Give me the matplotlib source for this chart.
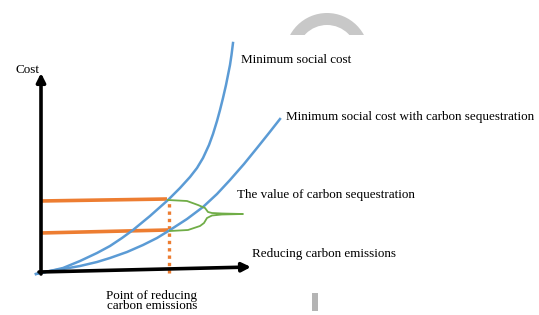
import matplotlib
matplotlib.use("Agg")
import matplotlib.pyplot as plt
from matplotlib.patches import Wedge, Rectangle

# Diagram data (x: reduction of carbon emissions, y: cost)
cost_x = [-4, 10, 23, 40, 57, 70, 82, 93, 110, 128, 140, 150, 157, 163, 169, 173, 177, 180, 183, 186, 188, 190, 191.5, 193]
cost_y = [-1, 2, 5, 12, 20, 27, 35, 43, 57, 73, 85, 96, 105, 115, 128, 139, 152, 163, 175, 188, 198, 208, 218, 230]

seq_x = [-4, 10, 23, 40, 57, 70, 87, 103, 117, 130, 147, 163, 177, 190, 204, 217, 229, 240]
seq_y = [-1, 2, 4, 7, 11, 15, 21, 28, 35, 43, 54, 66, 79, 93, 109, 125, 140, 154]

brace_x = [128, 147, 158, 165, 168, 172, 182, 203, 182, 172, 167, 164, 160, 148, 130]
brace_y = [73, 72, 68, 65, 61, 60, 59.5, 59, 58.5, 57.5, 55, 50, 47, 43, 42]

upper_level_x = [0, 127]
upper_level_y = [72, 74]
lower_level_x = [0, 128]
lower_level_y = [40, 43]
point_x = [129, 129]
point_y = [0, 73]

labels = {
    "cost": "Cost",
    "c1": "Minimum social cost",
    "c2": "Minimum social cost with carbon sequestration",
    "val": "The value of carbon sequestration",
    "xax": "Reducing carbon emissions",
    "pt": "Point of reducing\ncarbon emissions",
}

BLUE = "#5B9BD5"
ORANGE = "#ED7D31"
GREEN = "#70AD47"

fig = plt.figure(figsize=(5.39, 3.15), dpi=100)
ax = fig.add_axes([0, 0, 1, 1])
ax.set_xlim(-40, 499)
ax.set_ylim(-42, 273)
ax.axis("off")

serif = ["Liberation Serif", "DejaVu Serif"]
fs = 9.45

# watermark decorations
w = Wedge((287, 218), 42, 0, 180, width=12, facecolor="#c8c8c8", edgecolor="none")
ax.add_patch(w)
clip = Rectangle((200, 238), 200, 100, transform=ax.transData)
w.set_clip_path(clip)
ax.add_patch(Rectangle((272, -38), 6, 18, facecolor="#b4b4b4", edgecolor="none"))

# level lines
ax.plot(upper_level_x, upper_level_y, color=ORANGE, lw=2.6, solid_capstyle="butt", zorder=3)
ax.plot(lower_level_x, lower_level_y, color=ORANGE, lw=2.6, solid_capstyle="butt", zorder=3)
ax.plot(point_x, point_y, color=ORANGE, lw=2.4, ls=(0, (1, 1.2)), zorder=3)

# curves
ax.plot(cost_x, cost_y, color=BLUE, lw=1.8, zorder=4, solid_joinstyle="round")
ax.plot(seq_x, seq_y, color=BLUE, lw=1.8, zorder=4, solid_joinstyle="round")
ax.plot(brace_x, brace_y, color=GREEN, lw=1.3, zorder=4, solid_joinstyle="round")

# axes arrows
ap = dict(arrowstyle="-|>", lw=2.6, color="black", mutation_scale=13, shrinkA=0, shrinkB=0)
ax.annotate("", xy=(1, 200), xytext=(1, -1), arrowprops=ap, zorder=5)
ax.annotate("", xy=(211, 6), xytext=(-1, 1), arrowprops=ap, zorder=5)

# texts
ax.text(-13, 203, labels["cost"], family=serif, fontsize=fs, ha="center", va="center")
ax.text(201, 213, labels["c1"], family=serif, fontsize=fs, ha="left", va="center")
ax.text(246, 156, labels["c2"], family=serif, fontsize=fs, ha="left", va="center")
ax.text(197, 78, labels["val"], family=serif, fontsize=fs, ha="left", va="center")
ax.text(212, 19, labels["xax"], family=serif, fontsize=fs, ha="left", va="center")
ax.text(112, -28, labels["pt"], family=serif, fontsize=fs, ha="center", va="center", linespacing=0.88)

fig.savefig("out.png", dpi=100)
